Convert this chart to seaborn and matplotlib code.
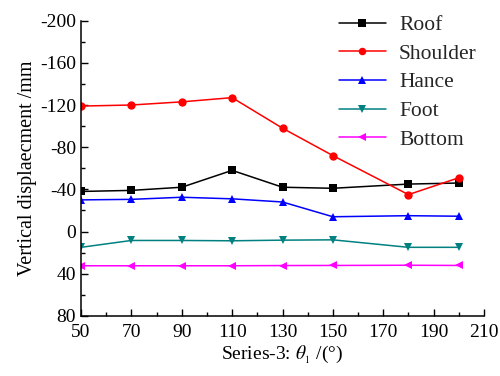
import matplotlib
matplotlib.use("Agg")
import matplotlib.pyplot as plt
import seaborn as sns
import pandas as pd
from matplotlib.ticker import MultipleLocator

# Arch angle theta_1 (degrees)
theta = [50, 70, 90, 110, 130, 150, 180, 200]

# Vertical displacement (mm) at each monitoring point
roof = [-38, -39, -42, -58, -42, -41, -45, -46]
shoulder = [-119, -120, -123, -127, -98, -72, -35, -51]
hance = [-30, -30.5, -32.5, -31, -28, -14, -15, -14.5]
foot = [15, 8.5, 8.5, 8.8, 8.2, 7.9, 15, 15]
bottom = [32.5, 32.5, 32.5, 32.5, 32.3, 32.2, 32, 32.2]

names = ["Roof", "Shoulder", "Hance", "Foot", "Bottom"]
series = [roof, shoulder, hance, foot, bottom]

df = pd.DataFrame({
    "theta": theta * len(names),
    "disp": [v for s in series for v in s],
    "point": [n for n in names for _ in theta],
})

sns.set_theme(style="white")
plt.rcParams["font.family"] = ["Liberation Serif", "DejaVu Serif"]
plt.rcParams["mathtext.fontset"] = "stix"
plt.rcParams["axes.unicode_minus"] = False

palette = {"Roof": "black", "Shoulder": "#ff0000", "Hance": "#0000ff",
           "Foot": "#008080", "Bottom": "#ff00ff"}
markers = {"Roof": "s", "Shoulder": "o", "Hance": "^", "Foot": "v", "Bottom": "<"}

fig = plt.figure(figsize=(5.0, 3.76), dpi=100)
ax = fig.add_axes([0.162, 0.160, 0.806, 0.785])

sns.lineplot(data=df, x="theta", y="disp", hue="point", style="point",
             hue_order=names, style_order=names, palette=palette,
             markers=markers, dashes=False, markersize=6,
             markeredgewidth=0, linewidth=1.1, ax=ax)

ax.set_xlim(50, 210)
ax.set_ylim(80, -200)
ax.set_xticks(list(range(50, 211, 20)))
ax.set_xticks(list(range(60, 210, 20)), minor=True)
ax.yaxis.set_major_locator(MultipleLocator(40))
ax.yaxis.set_minor_locator(MultipleLocator(20))

for side in ("top", "right"):
    ax.spines[side].set_visible(False)
for side in ("left", "bottom"):
    ax.spines[side].set_color("black")
    ax.spines[side].set_linewidth(1.1)

ax.tick_params(which="both", direction="in", color="black", labelsize=14,
               labelcolor="black", bottom=True, left=True, top=False, right=False)
ax.tick_params(which="major", length=5, width=1.0)
ax.tick_params(which="minor", length=3, width=1.0)
ax.tick_params(axis="x", pad=6)

ax.set_xlabel(r"Series-3: $\theta_{_1}$ /(°)", fontsize=14, color="black", labelpad=2)
ax.set_ylabel("Vertical displaecment /mm", fontsize=14.5, color="black", labelpad=2)

leg = ax.legend(title=None, frameon=False, fontsize=15.5, loc="upper right",
                bbox_to_anchor=(1.03, 1.085), handlelength=2.2,
                labelspacing=0.4, handletextpad=0.6, markerscale=0.9)

fig.savefig("out.png", dpi=100)
